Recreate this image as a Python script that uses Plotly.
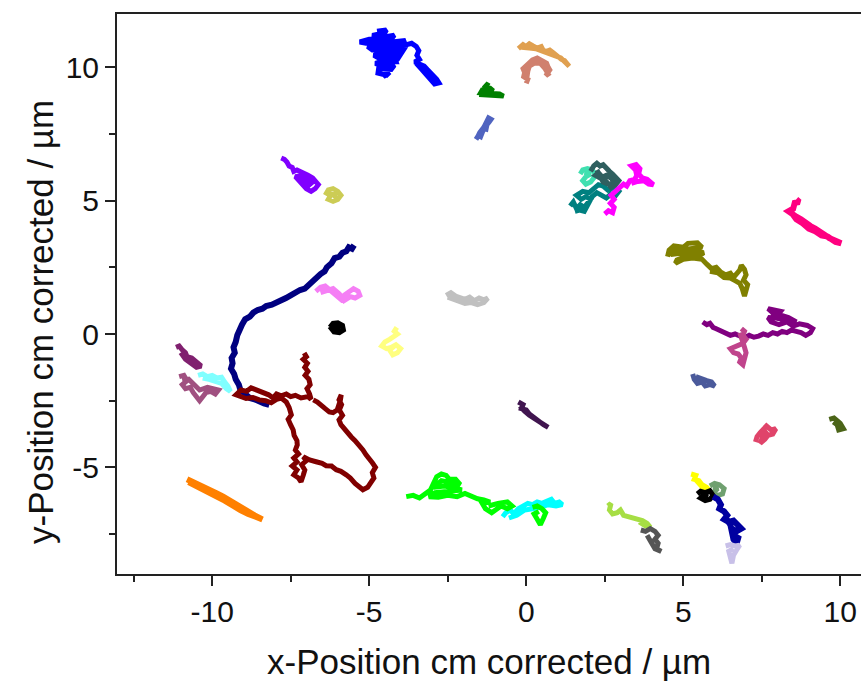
import plotly.graph_objects as go

# ---- particle trajectories (x, y in µm, centre-of-mass corrected) ----
tr_blue = [(-4.75,11.35),(-4.45,11.40),(-4.50,11.30),(-4.90,11.20),(-4.70,11.10),(-4.20,11.20),(-4.30,11.05),(-5.00,11.05),
           (-5.30,10.95),(-5.10,10.90),(-4.50,10.92),(-3.90,11.00),(-3.85,10.85),(-4.40,10.80),(-5.05,10.78),(-4.90,10.65),
           (-4.30,10.70),(-3.95,10.65),(-4.05,10.52),(-4.60,10.55),(-4.85,10.45),(-4.70,10.35),(-4.20,10.38),(-4.15,10.22),
           (-4.55,10.25),(-4.80,10.15),(-4.60,10.05),(-4.20,10.08),(-4.30,9.92),(-4.70,9.95),(-4.72,9.78),(-4.45,9.70),
           (-4.35,9.82),(-4.55,9.65),(-4.40,10.00),(-4.10,10.30),(-3.95,10.60),(-3.80,10.85),(-3.65,10.90),(-3.50,10.78),
           (-3.42,10.62),(-3.48,10.45),(-3.40,10.30),(-3.55,10.20),(-3.40,10.12),(-3.25,10.05),(-3.15,9.92),(-3.05,9.80),
           (-2.95,9.72),(-2.85,9.55),(-2.78,9.42),(-2.92,9.38),(-3.05,9.55),(-3.20,9.72),(-3.35,9.95),(-3.50,10.15)]
tr_green = [(-1.50,8.98),(-1.00,8.95),(-0.72,8.92),(-0.85,9.00),(-1.45,9.05),(-1.40,9.15),(-1.05,9.12),(-1.15,9.22),
            (-1.35,9.22),(-1.25,9.35),(-1.18,9.30)]
tr_slate = [(-1.60,7.30),(-1.52,7.45),(-1.45,7.40),(-1.40,7.55),(-1.35,7.70),(-1.28,7.68),(-1.25,7.85),(-1.18,7.95),
            (-1.12,8.05),(-1.20,8.10),(-1.25,7.95),(-1.35,7.75),(-1.48,7.55),(-1.55,7.38)]
tr_violet = [(-7.80,6.60),(-7.70,6.55),(-7.62,6.45),(-7.55,6.30),(-7.45,6.25),(-7.40,6.10),(-7.30,6.15),(-7.20,6.10),
             (-7.05,6.05),(-6.95,5.95),(-6.80,5.85),(-6.70,5.72),(-6.62,5.60),(-6.72,5.45),(-6.85,5.35),(-7.00,5.45),
             (-7.10,5.60),(-7.25,5.75),(-7.35,5.90),(-7.15,5.95),(-7.00,5.80),(-6.85,5.65),(-6.95,5.55),(-7.10,5.70),(-7.20,5.88)]
tr_khaki = [(-6.40,5.20),(-6.30,5.40),(-6.15,5.45),(-6.00,5.35),(-5.90,5.20),(-6.00,5.05),(-6.15,4.98),(-6.30,5.05),
            (-6.20,5.25),(-6.05,5.20),(-6.15,5.10)]
tr_sand = [(-0.25,10.70),(-0.10,10.85),(0.00,10.78),(0.10,10.88),(0.22,10.80),(0.35,10.72),(0.48,10.78),(0.55,10.62),
           (0.65,10.60),(0.75,10.65),(0.86,10.55),(0.95,10.45),(1.05,10.40),(1.12,10.30),(1.22,10.25),(1.30,10.10),
           (1.37,10.04),(1.25,10.18),(1.10,10.35),(0.90,10.45),(0.70,10.55),(0.50,10.65),(0.30,10.70),(0.10,10.72),(-0.15,10.75)]
tr_rosy = [(0.00,9.40),(0.05,9.55),(-0.08,9.65),(-0.05,9.80),(-0.10,9.95),(0.00,10.05),(0.10,10.18),(0.20,10.28),
           (0.35,10.35),(0.45,10.30),(0.55,10.25),(0.65,10.15),(0.70,10.00),(0.75,9.90),(0.68,9.78),(0.62,9.68),
           (0.70,9.75),(0.60,9.95),(0.45,10.15),(0.25,10.15),(0.10,10.05),(0.05,9.85),(0.02,9.60)]
tr_teal = [(1.40,4.80),(1.50,4.95),(1.60,4.70),(1.72,4.85),(1.85,4.75),(1.95,4.90),(2.05,5.05),(1.90,5.15),(1.75,5.05),
           (1.60,5.20),(1.80,5.35),(2.00,5.30),(2.15,5.45),(2.30,5.60),(2.45,5.55),(2.60,5.40),(2.80,5.50),(2.95,5.35),
           (2.85,5.20),(2.70,5.25),(2.55,5.10),(2.40,5.20),(2.25,5.30),(2.10,5.15),(2.00,4.95),(1.85,4.60),(1.70,4.65),(1.55,4.60)]
tr_aqua = [(1.72,6.00),(1.80,6.15),(1.95,6.20),(2.10,6.15),(2.20,6.00),(2.15,5.85),(2.05,5.70),(1.90,5.62),(1.80,5.75),
           (1.90,5.90),(2.05,6.00),(1.85,6.05)]
tr_darkslate = [(2.05,6.10),(2.15,6.30),(2.25,6.40),(2.35,6.30),(2.45,6.35),(2.55,6.20),(2.65,6.10),(2.75,6.00),(2.85,5.90),
                (2.95,5.75),(2.85,5.60),(2.70,5.50),(2.60,5.65),(2.50,5.80),(2.40,5.95),(2.30,6.05),(2.20,5.95),(2.35,5.85),
                (2.55,5.95),(2.70,5.85),(2.80,5.70),(2.65,5.60),(2.45,5.70),(2.25,6.15)]
tr_magenta = [(2.50,4.50),(2.62,4.62),(2.75,4.55),(2.80,4.75),(2.68,4.90),(2.80,5.05),(2.70,5.20),(2.85,5.35),(2.95,5.50),
              (3.10,5.62),(3.20,5.55),(3.30,5.75),(3.45,5.80),(3.52,5.95),(3.48,6.15),(3.35,6.30),(3.50,6.35),(3.62,6.20),
              (3.58,6.00),(3.70,5.85),(3.85,5.80),(3.95,5.70),(4.05,5.60),(3.90,5.62),(3.75,5.75),(3.55,5.72),(3.35,5.65)]
tr_deeppink = [(8.60,5.05),(8.70,4.95),(8.55,4.92),(8.50,4.70),(8.35,4.60),(8.45,4.50),(8.60,4.40),(8.75,4.30),(8.90,4.15),
               (9.05,4.05),(9.20,3.95),(9.35,3.80),(9.50,3.72),(9.65,3.60),(9.80,3.52),(9.95,3.45),(10.03,3.40),(9.85,3.45),
               (9.60,3.65),(9.40,3.70),(9.20,3.85),(9.00,3.95),(8.80,4.15),(8.60,4.30),(8.45,4.55)]
tr_navy = [(-5.48,3.33),(-5.55,3.20),(-5.65,3.25),(-5.73,3.10),(-5.85,3.05),(-5.95,2.90),(-6.10,2.85),(-6.20,2.65),
           (-6.35,2.50),(-6.42,2.35),(-6.55,2.25),(-6.70,2.10),(-6.80,1.95),(-6.95,1.85),(-7.05,1.70),(-7.20,1.65),
           (-7.35,1.52),(-7.50,1.45),(-7.65,1.35),(-7.80,1.25),(-7.95,1.20),(-8.10,1.10),(-8.28,1.05),(-8.40,0.95),
           (-8.55,0.90),(-8.69,0.80),(-8.80,0.65),(-8.95,0.55),(-9.05,0.35),(-9.15,0.15),(-9.20,-0.05),(-9.25,-0.30),
           (-9.32,-0.50),(-9.28,-0.70),(-9.38,-0.90),(-9.35,-1.10),(-9.40,-1.30),(-9.30,-1.50),(-9.25,-1.70),(-9.15,-1.90),
           (-9.10,-2.10),(-8.95,-2.25),(-8.80,-2.40),(-8.65,-2.45),(-8.50,-2.55),(-8.35,-2.60),(-8.18,-2.66)]
tr_orchid = [(-6.70,1.60),(-6.55,1.75),(-6.40,1.80),(-6.25,1.65),(-6.10,1.55),(-6.00,1.40),(-5.90,1.30),(-5.80,1.45),
             (-5.65,1.55),(-5.50,1.70),(-5.35,1.60),(-5.30,1.45),(-5.45,1.35),(-5.60,1.40),(-5.80,1.25),(-5.95,1.50),
             (-6.15,1.70),(-6.35,1.60),(-6.55,1.55)]
tr_black1 = [(-6.25,0.25),(-6.15,0.40),(-6.00,0.42),(-5.85,0.32),(-5.82,0.15),(-5.95,0.05),(-6.12,0.08),(-6.20,0.20),
             (-6.05,0.30),(-5.95,0.20),(-6.10,0.15)]
tr_silver = [(-2.55,1.45),(-2.40,1.55),(-2.25,1.42),(-2.10,1.38),(-1.95,1.30),(-1.80,1.38),(-1.65,1.25),(-1.50,1.35),
             (-1.35,1.28),(-1.22,1.35),(-1.35,1.18),(-1.55,1.10),(-1.75,1.18),(-1.95,1.15),(-2.15,1.25),(-2.35,1.30),(-2.50,1.38)]
tr_paleyellow = [(-4.12,0.25),(-4.20,0.10),(-4.10,0.00),(-4.25,-0.15),(-4.35,-0.20),(-4.50,-0.30),(-4.60,-0.45),(-4.45,-0.55),
                 (-4.30,-0.50),(-4.15,-0.40),(-4.00,-0.55),(-4.10,-0.70),(-4.25,-0.78),(-4.35,-0.60),(-4.20,-0.45)]
tr_plum = [(-11.15,-0.50),(-11.05,-0.45),(-10.95,-0.60),(-10.85,-0.70),(-10.80,-0.85),(-10.65,-0.90),(-10.55,-1.00),
           (-10.45,-1.10),(-10.35,-1.20),(-10.50,-1.25),(-10.65,-1.10),(-10.85,-0.95),(-11.00,-0.70)]
tr_mauve = [(-11.05,-1.60),(-10.90,-1.55),(-10.80,-1.75),(-10.95,-1.90),(-10.85,-2.05),(-10.70,-2.00),(-10.60,-2.20),
            (-10.50,-2.35),(-10.40,-2.50),(-10.30,-2.35),(-10.20,-2.20),(-10.05,-2.15),(-9.90,-2.25),(-9.80,-2.10),
            (-9.95,-2.05),(-10.15,-2.00),(-10.40,-2.10),(-10.60,-1.90),(-10.75,-1.70),(-10.95,-1.75)]
tr_lightcyan = [(-10.45,-1.55),(-10.30,-1.50),(-10.15,-1.60),(-10.00,-1.55),(-9.85,-1.65),(-9.70,-1.62),(-9.60,-1.80),
                (-9.50,-1.95),(-9.42,-2.15),(-9.55,-2.05),(-9.70,-1.85),(-9.90,-1.75),(-10.10,-1.70),(-10.30,-1.65)]
tr_maroon = [(-7.07,-0.71),(-7.00,-0.85),(-7.10,-0.95),(-6.97,-1.10),(-7.05,-1.25),(-6.95,-1.40),(-7.04,-1.55),(-6.92,-1.70),
             (-6.88,-1.90),(-6.98,-2.05),(-6.90,-2.25),(-6.85,-2.45),(-6.95,-2.35),(-7.17,-2.40),(-7.35,-2.30),(-7.50,-2.35),
             (-7.64,-2.25),(-7.80,-2.32),(-7.95,-2.25),(-8.06,-2.40),(-8.20,-2.28),(-8.38,-2.21),(-8.55,-2.10),(-8.76,-2.02),
             (-8.90,-2.15),(-9.08,-2.10),(-9.24,-2.28),(-9.05,-2.35),(-8.92,-2.42),(-8.70,-2.38),(-8.50,-2.47),(-8.30,-2.50),
             (-8.12,-2.58),(-7.95,-2.45),(-7.80,-2.40),(-7.64,-2.55),(-7.55,-2.75),(-7.48,-3.03),(-7.58,-3.20),(-7.50,-3.41),
             (-7.42,-3.60),(-7.39,-3.80),(-7.30,-4.00),(-7.29,-4.16),(-7.35,-4.35),(-7.25,-4.50),(-7.40,-4.65),(-7.30,-4.80),
             (-7.45,-4.95),(-7.30,-5.10),(-7.40,-5.28),(-7.25,-5.40),(-7.17,-5.54),(-7.10,-5.30),(-7.05,-5.10),(-7.15,-4.90),
             (-7.00,-4.75),(-7.10,-4.60),(-6.90,-4.72),(-6.69,-4.79),(-6.50,-4.85),(-6.37,-4.94),(-6.20,-4.95),(-6.05,-5.09),
             (-5.90,-5.15),(-5.73,-5.28),(-5.60,-5.40),(-5.45,-5.60),(-5.30,-5.75),(-5.20,-5.84),(-5.05,-5.75),(-4.95,-5.60),
             (-4.85,-5.40),(-4.90,-5.20),(-4.80,-5.00),(-4.90,-4.83),(-5.00,-4.70),(-5.10,-4.53),(-5.20,-4.35),(-5.32,-4.16),
             (-5.45,-4.00),(-5.57,-3.86),(-5.70,-3.70),(-5.80,-3.52),(-5.90,-3.40),(-5.96,-3.22),(-5.85,-3.05),(-5.95,-2.85),
             (-5.88,-2.65),(-5.96,-2.47),(-5.89,-2.28),(-5.92,-2.50),(-6.02,-2.85),(-6.15,-2.95),(-6.27,-2.92),(-6.40,-2.80),
             (-6.53,-2.66),(-6.65,-2.55),(-6.78,-2.47)]
tr_orange = [(-10.80,-5.45),(-10.60,-5.55),(-10.45,-5.65),(-10.25,-5.75),(-10.05,-5.85),(-9.85,-5.98),(-9.65,-6.10),
             (-9.45,-6.25),(-9.25,-6.40),(-9.05,-6.55),(-8.85,-6.65),(-8.65,-6.80),(-8.40,-6.95),(-8.60,-6.88),(-8.85,-6.75),
             (-9.10,-6.60),(-9.35,-6.40),(-9.60,-6.25),(-9.85,-6.10),(-10.10,-5.95),(-10.35,-5.80),(-10.60,-5.65),(-10.75,-5.55)]
tr_cyan = [(-0.75,-6.85),(-0.65,-6.70),(-0.50,-6.60),(-0.40,-6.75),(-0.25,-6.55),(-0.10,-6.45),(0.05,-6.35),(0.20,-6.40),
           (0.35,-6.30),(0.50,-6.35),(0.65,-6.25),(0.80,-6.20),(0.90,-6.35),(1.05,-6.30),(1.15,-6.40),(0.95,-6.45),
           (0.70,-6.40),(0.45,-6.50),(0.20,-6.55),(-0.05,-6.60),(-0.30,-6.80),(-0.55,-6.90)]
tr_lime = [(-3.82,-6.10),(-3.60,-6.05),(-3.40,-6.15),(-3.20,-6.00),(-3.05,-5.85),(-2.95,-5.60),(-2.85,-5.35),(-2.70,-5.25),
           (-2.55,-5.30),(-2.45,-5.45),(-2.25,-5.45),(-2.10,-5.65),(-2.30,-5.60),(-2.70,-5.50),(-2.95,-5.75),(-2.60,-5.70),
           (-2.20,-5.80),(-2.05,-5.85),(-2.45,-5.90),(-2.90,-5.95),(-3.10,-6.10),(-2.80,-6.12),(-2.50,-6.05),(-2.20,-6.10),
           (-1.95,-5.98),(-1.75,-6.08),(-1.55,-6.18),(-1.35,-6.22),(-1.15,-6.30),(-1.40,-6.35),(-1.30,-6.55),(-1.10,-6.70),
           (-0.95,-6.60),(-0.80,-6.45),(-0.60,-6.55),(-0.45,-6.45),(-0.60,-6.30),(-0.90,-6.35),(-1.20,-6.45)]
tr_lime_end = [(0.20,-6.50),(0.35,-6.45),(0.50,-6.55),(0.62,-6.70),(0.55,-6.90),(0.45,-7.15),(0.35,-6.95),(0.25,-6.75),(0.40,-6.65)]
tr_olive = [(4.50,2.90),(4.55,3.15),(4.70,3.30),(5.00,3.25),(5.15,3.40),(5.45,3.42),(5.60,3.25),(5.20,3.20),(4.70,3.12),
            (4.60,2.98),(5.00,3.05),(5.40,3.10),(5.65,3.05),(5.50,2.92),(5.10,2.92),(4.80,2.78),(4.75,2.65),(5.00,2.80),
            (5.30,2.85),(5.60,2.80),(5.75,2.62),(5.90,2.45),(6.05,2.50),(6.20,2.32),(6.35,2.22),(6.50,2.28),(6.60,2.12),
            (6.70,2.25),(6.80,2.40),(6.85,2.58),(6.95,2.42),(7.00,2.22),(6.92,2.02),(7.05,1.85),(7.00,1.62),(6.95,1.42),
            (6.88,1.70),(6.80,1.90),(6.65,2.00),(6.50,2.10),(6.30,2.12),(6.10,2.30),(5.85,2.35)]
tr_purple = [(5.62,0.45),(5.75,0.35),(5.85,0.40),(5.95,0.25),(6.05,0.20),(6.20,0.10),(6.35,0.05),(6.50,-0.05),(6.65,0.00),
             (6.80,-0.10),(6.95,-0.15),(7.10,-0.05),(7.25,-0.12),(7.40,-0.08),(7.55,0.00),(7.70,-0.05),(7.85,0.05),(8.00,0.00),
             (8.15,0.10),(8.30,0.05),(8.45,0.15),(8.60,0.10),(8.75,0.05),(8.90,-0.05),(9.05,0.05),(9.12,0.20),(8.95,0.32),
             (8.70,0.38),(8.50,0.30),(8.30,0.45),(8.05,0.35),(7.80,0.45),(7.70,0.62),(7.95,0.60),(8.20,0.55),(8.45,0.50),
             (8.60,0.45),(8.35,0.62),(8.10,0.72),(7.85,0.80),(7.70,0.95),(7.90,0.92),(8.10,0.85),(8.00,0.70),(7.80,0.65)]
tr_redviolet = [(6.85,0.20),(6.95,0.10),(6.90,-0.05),(7.00,-0.20),(6.90,-0.35),(6.80,-0.40),(6.65,-0.45),(6.50,-0.55),
                (6.60,-0.70),(6.75,-0.75),(6.85,-0.90),(6.80,-1.05),(6.90,-1.15),(6.95,-0.95),(7.00,-0.70),(6.95,-0.50),
                (6.85,-0.20),(6.80,0.05)]
tr_steel = [(5.30,-1.50),(5.35,-1.70),(5.45,-1.85),(5.60,-1.80),(5.70,-1.95),(5.85,-1.90),(6.00,-1.95),(5.90,-1.80),
            (5.75,-1.75),(5.60,-1.70),(5.40,-1.60)]
tr_indigo = [(-0.25,-2.55),(-0.10,-2.65),(-0.15,-2.80),(0.00,-2.85),(0.10,-3.00),(0.20,-3.10),(0.30,-3.20),(0.40,-3.30),
             (0.55,-3.40),(0.70,-3.50),(0.50,-3.35),(0.30,-3.25),(0.10,-3.05),(-0.05,-2.90),(-0.20,-2.70)]
tr_crimson = [(7.30,-4.05),(7.35,-3.85),(7.45,-3.70),(7.55,-3.55),(7.65,-3.45),(7.80,-3.60),(7.95,-3.55),(7.85,-3.75),
              (7.70,-3.80),(7.60,-3.95),(7.45,-4.10),(7.55,-3.80),(7.70,-3.65)]
tr_darkolive = [(9.65,-3.20),(9.80,-3.15),(9.90,-3.25),(10.00,-3.35),(10.10,-3.55),(9.95,-3.60),(9.90,-3.40),(9.78,-3.30)]
tr_yellow = [(5.25,-5.25),(5.40,-5.30),(5.35,-5.45),(5.50,-5.50),(5.60,-5.65),(5.75,-5.75),(5.85,-5.90),(5.65,-5.80),
             (5.50,-5.60),(5.35,-5.40)]
tr_sage = [(5.85,-5.70),(6.00,-5.60),(6.15,-5.65),(6.30,-5.80),(6.25,-6.00),(6.10,-6.05),(5.95,-5.95),(6.10,-5.80),(5.95,-5.75)]
tr_black2 = [(5.45,-6.00),(5.55,-5.90),(5.70,-5.95),(5.85,-5.88),(5.95,-6.05),(5.85,-6.20),(5.70,-6.25),(5.55,-6.15),
             (5.65,-6.05),(5.80,-6.10)]
tr_darkblue = [(5.95,-6.10),(6.10,-6.20),(6.20,-6.40),(6.15,-6.55),(6.30,-6.65),(6.40,-6.80),(6.30,-6.95),(6.45,-7.05),
               (6.60,-7.00),(6.75,-7.15),(6.85,-7.30),(6.70,-7.40),(6.55,-7.30),(6.60,-7.55),(6.75,-7.65),(6.70,-7.85),
               (6.60,-7.70),(6.50,-7.15),(6.35,-6.90)]
tr_lavender = [(6.35,-7.95),(6.50,-7.90),(6.65,-7.95),(6.80,-7.92),(6.70,-8.10),(6.60,-8.30),(6.55,-8.60),(6.50,-8.35),
               (6.45,-8.15),(6.60,-8.05)]
tr_yellowgreen = [(2.60,-6.45),(2.70,-6.35),(2.65,-6.60),(2.75,-6.75),(2.90,-6.70),(3.00,-6.60),(3.10,-6.80),(3.25,-6.85),
                  (3.40,-6.90),(3.55,-6.95),(3.70,-7.00),(3.85,-7.10),(3.95,-7.25),(3.80,-7.20),(3.60,-7.05)]
tr_dimgray = [(3.65,-7.35),(3.80,-7.40),(3.95,-7.30),(4.10,-7.40),(4.20,-7.55),(4.10,-7.70),(4.20,-7.85),(4.15,-8.05),
              (4.30,-8.15),(4.10,-8.05),(3.95,-7.75),(3.85,-7.55)]

# axis ticks
x_ticks = [-10, -5, 0, 5, 10]
x_ticktext = ["-10", "-5", "0", "5", "10"]
y_ticks = [-5, 0, 5, 10]
y_ticktext = ["-5", "0", "5", "10"]

# (points, colour, stroke width)
tracks = [
    (tr_blue, "#0000FF", 5), (tr_green, "#008000", 5), (tr_slate, "#5064C0", 5), (tr_violet, "#8000FF", 5),
    (tr_khaki, "#CCCC55", 5), (tr_sand, "#E0A050", 5), (tr_rosy, "#D0806E", 5), (tr_teal, "#008080", 5),
    (tr_aqua, "#40E0B0", 5), (tr_darkslate, "#2F5F5F", 5), (tr_magenta, "#FF00FF", 5), (tr_deeppink, "#FF0080", 6),
    (tr_navy, "#000080", 6), (tr_orchid, "#F57FF5", 5), (tr_black1, "#000000", 5), (tr_silver, "#C0C0C0", 5),
    (tr_paleyellow, "#FFFF80", 5), (tr_plum, "#80206F", 5), (tr_mauve, "#A05080", 5), (tr_lightcyan, "#80FFFF", 5),
    (tr_maroon, "#800000", 5), (tr_orange, "#FF8000", 6), (tr_cyan, "#00FFFF", 5), (tr_lime, "#00FF00", 5),
    (tr_lime_end, "#00FF00", 5), (tr_olive, "#808000", 5), (tr_purple, "#800080", 5), (tr_redviolet, "#C0448C", 5),
    (tr_steel, "#4B5A9B", 5), (tr_indigo, "#40154F", 5), (tr_crimson, "#E0446A", 5), (tr_darkolive, "#4B6418", 5),
    (tr_yellow, "#FFFF00", 5), (tr_sage, "#6FA06F", 5), (tr_black2, "#000000", 5), (tr_darkblue, "#0000A0", 6),
    (tr_lavender, "#C8C0E8", 5), (tr_yellowgreen, "#A6DE44", 5), (tr_dimgray, "#555555", 5),
]

fig = go.Figure()
for pts, color, w in tracks:
    fig.add_trace(go.Scatter(
        x=[p[0] for p in pts], y=[p[1] for p in pts], mode="lines",
        line=dict(color=color, width=w), showlegend=False, hoverinfo="skip"))

font_family = "Arial, 'Liberation Sans', sans-serif"
axis_col = "#222222"

fig.update_layout(
    width=861, height=683,
    margin=dict(l=117, r=0, t=14, b=109),
    paper_bgcolor="white", plot_bgcolor="white",
    font=dict(family=font_family, color="#111111"),
    xaxis=dict(
        range=[-13.03, 10.66], showgrid=False, zeroline=False,
        showline=True, linecolor=axis_col, linewidth=2, mirror=True,
        tickmode="array", tickvals=x_ticks, ticktext=x_ticktext,
        ticks="outside", ticklen=10, tickwidth=2, tickcolor=axis_col,
        tickfont=dict(size=30, family=font_family),
        minor=dict(dtick=2.5, tick0=0, ticks="outside", ticklen=6, tickwidth=2, tickcolor=axis_col, showgrid=False),
    ),
    yaxis=dict(
        range=[-9, 12], showgrid=False, zeroline=False,
        showline=True, linecolor=axis_col, linewidth=2, mirror=False,
        tickmode="array", tickvals=y_ticks, ticktext=y_ticktext,
        ticks="outside", ticklen=10, tickwidth=2, tickcolor=axis_col,
        tickfont=dict(size=30, family=font_family),
        minor=dict(dtick=2.5, tick0=0, ticks="outside", ticklen=6, tickwidth=2, tickcolor=axis_col, showgrid=False),
    ),
    annotations=[
        dict(text="x-Position cm corrected / µm", xref="paper", yref="paper", x=0.5, y=-0.157,
             xanchor="center", yanchor="middle", showarrow=False, font=dict(size=35, family=font_family)),
        dict(text="y-Position cm corrected / µm", xref="paper", yref="paper", x=-0.1035, y=0.45,
             xanchor="center", yanchor="middle", textangle=-90, showarrow=False, font=dict(size=35, family=font_family)),
    ],
)

fig.write_html("out.html")
